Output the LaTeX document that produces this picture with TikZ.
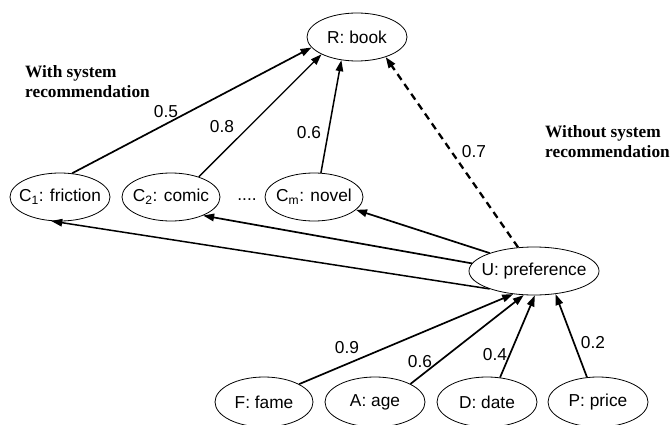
\documentclass[tikz,border=0pt]{standalone}
\usepackage{fontspec}
\setmainfont{Liberation Sans}
\newfontfamily\serifbf{Liberation Serif}
\usetikzlibrary{shapes.geometric,arrows.meta}
\tikzset{
  ell/.style={ellipse, draw, line width=0.8pt, inner xsep=-30pt, inner ysep=-6pt,
    minimum width=100pt, minimum height=48pt, font=\fontsize{17.3}{20}\selectfont},
  arr/.style={line width=1.7pt, -{Triangle[length=11pt,width=7.5pt]}},
  darr/.style={arr, line width=2.3pt, dash pattern=on 7pt off 5pt},
  lbl/.style={inner sep=0pt, font=\fontsize{17.3}{20}\selectfont},
  note/.style={inner sep=0pt, align=left, font=\serifbf\bfseries\fontsize{17.3}{20}\selectfont},
}
\begin{document}
\begin{tikzpicture}[x=1pt,y=-1pt]
\useasboundingbox (0,0) rectangle (671,425);
% nodes
\node[ell] (R) at (357,37) {R: book};
\node[ell] (C1) at (60,197) {C\textsubscript{1}: friction};
\node[ell, minimum width=98pt] (C2) at (171,197) {C\textsubscript{2}: comic};
\node[ell, minimum width=98pt] (Cm) at (314,197) {C\textsubscript{m}: novel};
\node[lbl] (dots) at (247,200) {....};
\node[ell, minimum width=130pt] (U) at (534,271) {U: preference};
\node[ell, minimum width=98pt, minimum height=50pt] (F) at (264,402) {F: fame};
\node[ell, minimum width=100pt, minimum height=50pt] (A) at (375,402) {A: age};
\node[ell, minimum width=100pt, minimum height=50pt] (D) at (487,402) {D: date};
\node[ell, minimum width=100pt, minimum height=50pt] (P) at (598,402) {P: price};
% notes
\node[note, anchor=west] (with) at (25,82) {With system\\recommendation};
\node[note, anchor=west] (without) at (545,142) {Without system\\recommendation};
% edges to R
\draw[arr] (C1.63) -- (R.193);
\draw[arr, line width=1.3pt] (C2.36) -- (R.206);
\draw[arr, line width=1.5pt] (Cm.74) -- (R.236);
\draw[darr] (U.124) -- (R.325);
% edges from U to categories
\draw[arr] (U.158) -- (Cm.343);
\draw[arr] (U.173) -- (C2.330);
\draw[arr, line width=1.5pt] (U.202) -- (C1.250);
% edges into U
\draw[arr] (F.27) -- (U.228);
\draw[arr] (A.27) -- (U.247);
\draw[arr] (D.62) -- (U.272);
\draw[arr] (P.114) -- (U.313);
% weights
\node[lbl] (w1) at (166,112) {0.5};
\node[lbl] (w2) at (222,127) {0.8};
\node[lbl] (w3) at (309,133) {0.6};
\node[lbl] (w4) at (474,152) {0.7};
\node[lbl] (w5) at (347,348) {0.9};
\node[lbl] (w6) at (420,362) {0.6};
\node[lbl] (w7) at (495,355) {0.4};
\node[lbl] (w8) at (593,343) {0.2};
\end{tikzpicture}
\end{document}
